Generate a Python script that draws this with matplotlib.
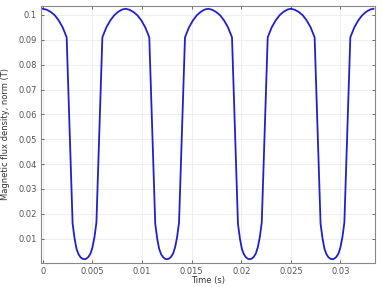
import matplotlib
matplotlib.use("Agg")
import matplotlib.pyplot as plt
from matplotlib.ticker import FuncFormatter

# time in ms, flux density norm in T
time_ms = [
    0.0, 0.4, 0.8, 1.2, 1.6, 2.0, 2.4, 3.0, 3.2, 3.4, 3.6, 3.8, 4.0,
    4.2, 4.4, 4.6, 4.8, 5.0, 5.2, 5.4, 6.0, 6.4, 6.8, 7.2, 7.6, 8.0,
    8.33, 8.73, 9.13, 9.53, 9.93, 10.33, 10.73, 11.33, 11.53, 11.73, 11.93, 12.13, 12.33,
    12.53, 12.73, 12.93, 13.13, 13.33, 13.53, 13.73, 14.33, 14.73, 15.13, 15.53, 15.93, 16.33,
    16.67, 17.07, 17.47, 17.87, 18.27, 18.67, 19.07, 19.67, 19.87, 20.07, 20.27, 20.47, 20.67,
    20.87, 21.07, 21.27, 21.47, 21.67, 21.87, 22.07, 22.67, 23.07, 23.47, 23.87, 24.27, 24.67,
    25.0, 25.4, 25.8, 26.2, 26.6, 27.0, 27.4, 28.0, 28.2, 28.4, 28.6, 28.8, 29.0,
    29.2, 29.4, 29.6, 29.8, 30.0, 30.2, 30.4, 31.0, 31.4, 31.8, 32.2, 32.6, 33.0,
    33.33,
]
b_norm = [
    0.1025, 0.1021, 0.1012, 0.0999, 0.0978, 0.0950, 0.0910, 0.0160, 0.0100, 0.0058, 0.0037, 0.0025, 0.0019,
    0.0017, 0.0020, 0.0027, 0.0040, 0.0065, 0.0105, 0.0165, 0.0910, 0.0950, 0.0978, 0.0999, 0.1013, 0.1022,
    0.1025, 0.1021, 0.1012, 0.0999, 0.0978, 0.0950, 0.0910, 0.0160, 0.0100, 0.0058, 0.0037, 0.0025, 0.0019,
    0.0017, 0.0020, 0.0027, 0.0040, 0.0065, 0.0105, 0.0165, 0.0910, 0.0950, 0.0978, 0.0999, 0.1013, 0.1022,
    0.1025, 0.1021, 0.1012, 0.0999, 0.0978, 0.0950, 0.0910, 0.0160, 0.0100, 0.0058, 0.0037, 0.0025, 0.0019,
    0.0017, 0.0020, 0.0027, 0.0040, 0.0065, 0.0105, 0.0165, 0.0910, 0.0950, 0.0978, 0.0999, 0.1013, 0.1022,
    0.1025, 0.1021, 0.1012, 0.0999, 0.0978, 0.0950, 0.0910, 0.0160, 0.0100, 0.0058, 0.0037, 0.0025, 0.0019,
    0.0017, 0.0020, 0.0027, 0.0040, 0.0065, 0.0105, 0.0165, 0.0910, 0.0950, 0.0978, 0.0999, 0.1013, 0.1022,
    0.1025,
]
x_ticks = [0, 0.005, 0.01, 0.015, 0.02, 0.025, 0.03]
y_ticks = [0.01, 0.02, 0.03, 0.04, 0.05, 0.06, 0.07, 0.08, 0.09, 0.1]

t = [v / 1000 for v in time_ms]

fig = plt.figure(figsize=(3.82, 2.87), dpi=100)
ax = fig.add_axes([0.107, 0.084, 0.875, 0.895])

ax.plot(t, b_norm, color="#2020cc", lw=1.3)

ax.set_xlim(-0.0002, 0.0335)
ax.set_ylim(0.00025, 0.1036)
ax.set_xticks(x_ticks)
ax.set_yticks(y_ticks)
fmt = FuncFormatter(lambda v, p: "%g" % v)
ax.xaxis.set_major_formatter(fmt)
ax.yaxis.set_major_formatter(fmt)

ax.grid(True, color="#ebebeb", lw=0.6)
ax.set_axisbelow(True)
ax.tick_params(direction="in", length=2.5, width=0.6, labelsize=6, colors="#555555",
               top=True, right=True, labeltop=False, labelright=False, pad=3)
for s in ax.spines.values():
    s.set_color("#888888")
    s.set_linewidth(0.8)

ax.set_xlabel("Time (s)", fontsize=6, color="#333333", labelpad=0)
ax.set_ylabel("Magnetic flux density, norm (T)", fontsize=6, color="#333333", labelpad=6)

fig.savefig("out.png", dpi=100)
